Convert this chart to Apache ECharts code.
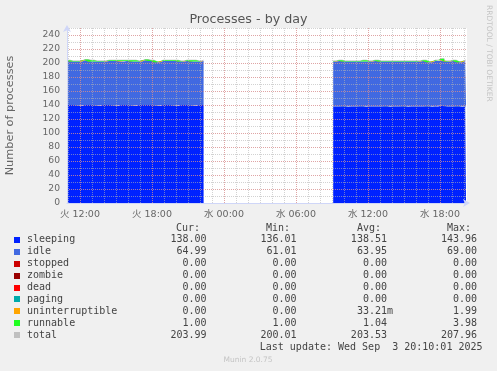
<!DOCTYPE html>
<html><head><meta charset="utf-8">
<script src="https://cdn.jsdelivr.net/npm/echarts@6/dist/echarts.min.js"></script>
<style>html,body{margin:0;padding:0;background:#F0F0F0;}#c{width:497px;height:371px;}</style>
</head><body><div id="c"></div>
<script>
// Time in hours since Tue 2 Sep 2025 00:00 (火 00:00); two data segments with a gap between them
var times1 = [10.92,11.42,11.92,12.42,12.92,13.42,13.92,14.42,14.92,15.42,15.92,16.42,16.92,17.42,17.92,18.42,18.92,19.42,19.92,20.42,20.92,21.42,21.92,22.30];
var times2 = [33.10,33.60,34.10,34.60,35.10,35.60,36.10,36.60,37.10,37.60,38.10,38.60,39.10,39.60,40.10,40.60,41.10,41.60,42.10,42.60,43.10,43.60,44.10,44.17];

var sleeping1 = [140,140,139,140,140,139,140,140,139,140,140,139,140,140,140,139,140,140,139,140,140,139,140,140];
var sleeping2 = [138,138,137,138,138,137,138,138,138,137,138,138,137,138,138,138,137,138,139,138,138,137,138,138];
var idle1 = [63,62,63,64,62,63,62,63,64,62,63,63,62,64,63,62,63,63,64,62,63,63,62,63];
var idle2 = [64,65,65,64,64,65,64,65,64,65,64,64,65,64,64,65,64,65,64,64,65,64,65,65];
var uninterruptible1 = [0,0,0,0,0,0,0,0,0,1,0,0,0,0,0,0,0,0,0,0,0,0,0,0];
var uninterruptible2 = [0,0,0,0,0,0,0,0,0,0,0,0,0,0,0,0,0,0,1,0,0,0,0,0];
var runnable1 = [1,1,1,1,2,1,1,1,1,1,1,2,1,1,1,1,1,1,1,1,1,2,1,1];
var runnable2 = [1,1,1,1,1,2,1,1,1,1,1,1,1,1,1,1,1,1,2,1,1,1,1,1];
var total1 = [204,203,203,205,204,203,203,204,204,204,204,204,203,205,204,202,204,204,204,203,204,204,203,204];
var total2 = [203,204,203,203,203,204,203,204,203,203,203,203,203,203,203,204,202,204,206,203,204,202,204,204];

var xMin = 10.9167, xMax = 44.25;
var xHourTicks = [11,12,13,14,15,16,17,18,19,20,21,22,23,24,25,26,27,28,29,30,31,32,33,34,35,36,37,38,39,40,41,42,43,44];
var xMajorTicks = [12,18,24,30,36,42];
var xMajorLabels = ['火 12:00','火 18:00','水 00:00','水 06:00','水 12:00','水 18:00'];
var yMinorTicks = [0,10,20,30,40,50,60,70,80,90,100,110,120,130,140,150,160,170,180,190,200,210,220,230,240,250];
var yMajorTicks = [0,20,40,60,80,100,120,140,160,180,200,220,240];

var legendNames = ['sleeping','idle','stopped','zombie','dead','paging','uninterruptible','runnable','total'];
var legendColors = ['#0022FF','#4169E1','#CC0000','#990000','#FF0000','#00AAAA','#FFA500','#22FF22','#C0C0C0'];
var legendCur = ['138.00','64.99','0.00','0.00','0.00','0.00','0.00','1.00','203.99'];
var legendMin = ['136.01','61.01','0.00','0.00','0.00','0.00','0.00','1.00','200.01'];
var legendAvg = ['138.51 ','63.95 ','0.00 ','0.00 ','0.00 ','0.00 ','33.21m','1.04 ','203.53 '];
var legendMax = ['143.96','69.00','0.00','0.00','0.00','0.00','1.99','3.98','207.96'];

// value first, time second, so the stack is computed on the value dimension
function pairs(ts, arr){ return ts.map(function(t,i){ return [arr[i], t]; }); }

var sans = 'DejaVu Sans, Noto Sans CJK JP, sans-serif';
var mono = 'DejaVu Sans Mono, monospace';
var fontCol = '#666666';
var minorGrid = {show:true, lineStyle:{color:'rgba(180,180,180,0.6)', width:1, type:[1,1]}};
var majorGrid = {show:true, lineStyle:{color:'rgba(235,120,120,0.5)', width:1, type:[1,1]}};

var graphics = [];
var rowY0 = 239.7, rowH = 11.95;
[['Cur:',200],['Min:',290],['Avg:',381],['Max:',471]].forEach(function(h){
  graphics.push({type:'text', x:h[1], y:228, style:{text:h[0], font:'10px '+mono, fill:'#444', textAlign:'right', textVerticalAlign:'middle'}});
});
legendNames.forEach(function(n,i){
  var y = rowY0 + i*rowH;
  graphics.push({type:'rect', shape:{x:14, y:Math.round(y)-3, width:6, height:6}, style:{fill:legendColors[i]}});
  graphics.push({type:'text', x:27, y:y, style:{text:n, font:'10px '+mono, fill:'#444', textVerticalAlign:'middle'}});
  graphics.push({type:'text', x:206.5, y:y, style:{text:legendCur[i], font:'10px '+mono, fill:'#444', textAlign:'right', textVerticalAlign:'middle'}});
  graphics.push({type:'text', x:296.5, y:y, style:{text:legendMin[i], font:'10px '+mono, fill:'#444', textAlign:'right', textVerticalAlign:'middle'}});
  graphics.push({type:'text', x:393, y:y, style:{text:legendAvg[i], font:'10px '+mono, fill:'#444', textAlign:'right', textVerticalAlign:'middle'}});
  graphics.push({type:'text', x:477, y:y, style:{text:legendMax[i], font:'10px '+mono, fill:'#444', textAlign:'right', textVerticalAlign:'middle'}});
});
graphics.push({type:'text', x:482.5, y:347.7, style:{text:'Last update: Wed Sep  3 20:10:01 2025', font:'10px '+mono, fill:'#444', textAlign:'right', textVerticalAlign:'middle'}});
graphics.push({type:'text', x:248, y:360, style:{text:'Munin 2.0.75', font:'7.5px '+sans, fill:'#C4C4C4', textAlign:'center', textVerticalAlign:'middle'}});
graphics.push({type:'text', x:489, y:5, rotation:-Math.PI/2, style:{text:'RRDTOOL / TOBI OETIKER', font:'7.5px '+sans, fill:'#C4C4C4', textAlign:'left', textVerticalAlign:'middle'}});

function area(name, ts, data, color, stack){
  return {name:name, type:'line', stack:stack, xAxisIndex:1, yAxisIndex:1, data:pairs(ts, data), encode:{x:1, y:0},
          symbol:'none', step:'middle', lineStyle:{width:0}, areaStyle:{color:color, opacity:1}, itemStyle:{color:color}, z:2};
}
function totalLine(ts, data){
  return {name:'total', type:'line', xAxisIndex:1, yAxisIndex:1, data:pairs(ts, data), encode:{x:1, y:0},
          symbol:'none', step:'middle', lineStyle:{width:1, color:'#C0C0C0'}, itemStyle:{color:'#C0C0C0'}, z:1};
}

var chart = echarts.init(document.getElementById('c'), null, {renderer:'canvas'});
chart.setOption({
  backgroundColor:'#F0F0F0',
  animation:false,
  title:{text:'Processes - by day', left:'center', top:13, padding:0, textStyle:{fontFamily:sans, fontSize:12.7, fontWeight:'normal', color:'#555'}},
  grid:{left:67, top:28, width:400, height:175, show:true, backgroundColor:'#FFFFFF', borderWidth:0, outerBoundsMode:'none', containLabel:false},
  xAxis:[
    {type:'value', min:xMin, max:xMax, position:'bottom', z:10,
     axisLine:{show:false}, axisTick:{show:false, customValues:xHourTicks}, axisLabel:{show:false}, splitLine:minorGrid},
    {type:'value', min:xMin, max:xMax, position:'bottom', z:11,
     axisLine:{show:true, onZero:false, lineStyle:{color:'#CFD6F8', width:1}, symbol:['none','arrow'], symbolSize:[6,7], symbolOffset:[0,3]},
     axisTick:{show:false, customValues:xMajorTicks},
     axisLabel:{show:true, customValues:xMajorTicks, margin:7, fontFamily:sans, fontSize:9.5, color:fontCol,
       formatter:function(v){ var i = xMajorTicks.indexOf(Math.round(v)); return i>=0 ? xMajorLabels[i] : ''; }},
     splitLine:majorGrid}
  ],
  yAxis:[
    {type:'value', min:0, max:250, position:'left', z:10, axisLine:{show:false}, axisTick:{show:false, customValues:yMinorTicks}, axisLabel:{show:false}, splitLine:minorGrid},
    {type:'value', min:0, max:250, position:'left', z:11,
     name:'Number of processes', nameLocation:'middle', nameGap:51, nameRotate:90,
     nameTextStyle:{fontFamily:sans, fontSize:11.3, color:fontCol},
     axisLine:{show:true, onZero:false, lineStyle:{color:'#CFD6F8', width:1}, symbol:['none','arrow'], symbolSize:[6,7], symbolOffset:[0,3]},
     axisTick:{show:false, customValues:yMajorTicks},
     axisLabel:{show:true, customValues:yMajorTicks, margin:7, fontFamily:sans, fontSize:9.2, color:fontCol},
     splitLine:majorGrid}
  ],
  series:[
    area('sleeping', times1, sleeping1, '#0022FF', 's1'),
    area('idle', times1, idle1, '#4169E1', 's1'),
    area('uninterruptible', times1, uninterruptible1, '#FFA500', 's1'),
    area('runnable', times1, runnable1, '#22FF22', 's1'),
    totalLine(times1, total1),
    area('sleeping', times2, sleeping2, '#0022FF', 's2'),
    area('idle', times2, idle2, '#4169E1', 's2'),
    area('uninterruptible', times2, uninterruptible2, '#FFA500', 's2'),
    area('runnable', times2, runnable2, '#22FF22', 's2'),
    totalLine(times2, total2)
  ],
  graphic:graphics
});
</script></body></html>
